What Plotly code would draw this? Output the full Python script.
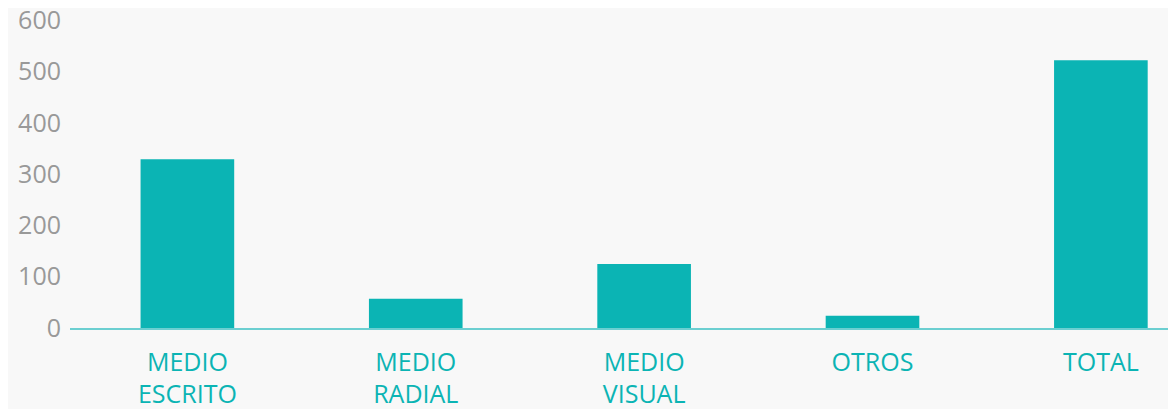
import plotly.graph_objects as go

categories = ["MEDIO<br>ESCRITO", "MEDIO<br>RADIAL", "MEDIO<br>VISUAL", "OTROS", "TOTAL"]
values = [329, 57, 125, 24, 522]
y_ticks = [0, 100, 200, 300, 400, 500, 600]

TEAL = "#0bb4b4"
FONT = "Open Sans"

fig = go.Figure(
    go.Bar(
        x=categories,
        y=values,
        marker=dict(color=TEAL, line=dict(width=0)),
        width=0.41,
        hoverinfo="x+y",
    )
)

fig.update_layout(
    width=1176,
    height=409,
    paper_bgcolor="#f8f8f8",
    plot_bgcolor="#f8f8f8",
    margin=dict(l=62, r=0, t=12, b=89),
    showlegend=False,
    font=dict(family=FONT),
)

fig.update_xaxes(
    type="category",
    range=[-0.514, 4.364],
    showgrid=False,
    showline=True,
    linecolor="#6ccfd1",
    linewidth=1.5,
    ticks="",
    tickfont=dict(family=FONT, size=25, color=TEAL),
    ticklabelstandoff=11,
    zeroline=False,
    automargin=False,
)

fig.update_yaxes(
    range=[0, 600.5],
    tickvals=y_ticks,
    showgrid=False,
    zeroline=False,
    showline=False,
    ticks="",
    tickfont=dict(family=FONT, size=25, color="#999999"),
    ticklabelstandoff=8,
    ticklabeloverflow="allow",
    automargin=False,
)

fig.write_html("out.html")
